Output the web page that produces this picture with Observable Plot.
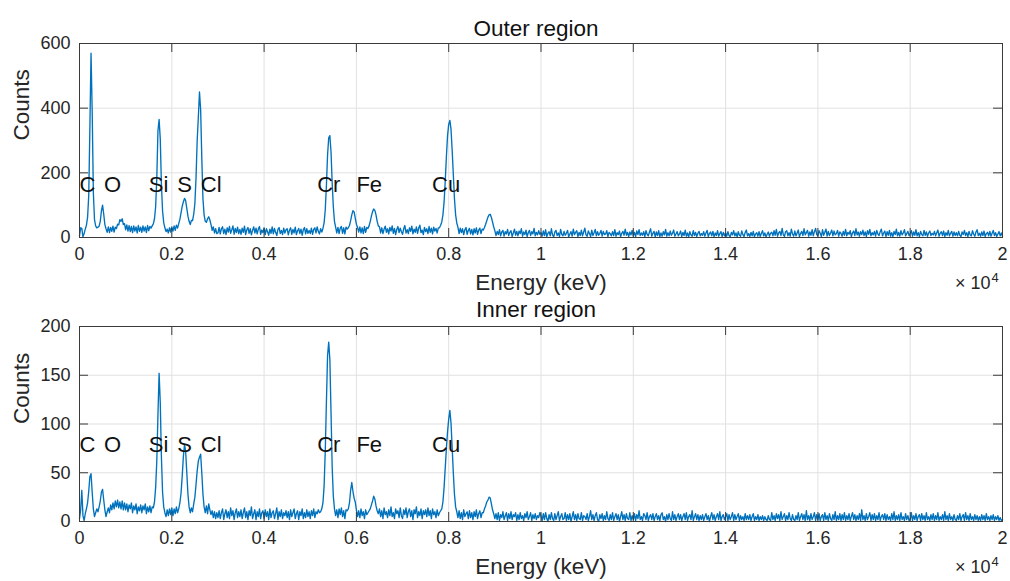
<!DOCTYPE html>
<html>
<head>
<meta charset="utf-8">
<script src="https://cdn.jsdelivr.net/npm/d3@7"></script>
<script src="https://cdn.jsdelivr.net/npm/@observablehq/plot@0.6"></script>
<style>
  html, body { margin: 0; padding: 0; background: #fff; }
  #chart svg { display: block; overflow: visible; background: transparent; }
</style>
</head>
<body>
<div id="chart"></div>
<script>
// ---- spectrum channel layout (eV) ----
const channelWidth = 25;  // eV per channel
const highStart = 10000;  // first channel of the second block

// ---- Outer region counts, channels 0 - 9975 eV ----
const outerLow = [
  5,30,28,2,12,26,38,62,130,340,570,390,140,55,36,30,32,35,50,82,
  100,72,40,27,16,33,15,31,19,35,17,32,28,41,39,55,50,58,40,43,
  24,39,20,37,18,34,15,36,20,33,14,37,19,32,16,36,20,33,15,37,
  21,34,29,36,42,58,95,185,330,365,305,165,82,46,30,18,26,14,30,17,
  33,20,36,22,38,29,43,56,76,96,110,121,114,90,66,50,40,53,52,72,
  105,185,300,372,450,395,245,120,70,50,47,58,64,54,40,22,33,14,27,12,
  14,31,11,27,33,12,26,9,30,17,34,13,24,36,10,28,15,32,12,25,
  10,29,16,35,9,24,31,13,27,8,22,33,14,29,11,26,34,10,23,15,
  30,9,27,18,7,26,13,33,11,28,16,6,25,31,12,22,9,29,14,24,
  27,8,23,30,10,25,14,32,9,21,28,12,26,7,24,31,11,27,13,22,
  12,29,10,25,30,14,33,19,11,27,17,28,45,85,160,255,308,315,265,170,
  95,50,32,14,31,12,29,34,13,30,11,32,26,30,37,52,70,83,79,60,
  41,31,17,33,14,30,12,34,16,31,28,36,50,66,80,88,84,70,50,36,
  33,14,30,12,26,35,16,27,11,31,20,36,13,28,9,25,34,15,29,18,
  10,27,37,14,24,12,30,19,35,11,26,16,33,13,29,38,15,23,9,31,
  18,27,12,34,16,29,11,32,20,28,14,30,30,38,48,70,110,175,250,315,
  350,362,335,270,195,120,70,45,32,12,29,15,27,9,24,31,10,22,28,11,
  25,8,27,14,30,10,23,29,12,26,23,31,41,52,63,70,72,62,48,33,
  21,6,19,9,24,5,17,22,4,18,11,25,6,16,21,3,14,26,7,19,
  5,20,12,27,4,17,9,23,3,15,22,6,18,11,28,5,16,8,21,10
];
// ---- Outer region counts, channels 10000 - 20000 eV ----
const outerHigh = [
  15,4,20,6,24,3,13,18,5,27,8,2,17,22,6,14,3,25,10,5,
  19,7,13,22,2,11,18,4,26,9,16,21,3,16,6,23,5,17,29,8,
  4,20,12,3,23,6,15,25,5,18,7,13,22,4,19,9,11,21,3,16,
  12,5,18,6,24,4,15,9,20,2,13,19,7,26,7,16,3,17,8,22,
  5,16,3,20,9,24,6,14,7,18,3,21,10,5,17,27,4,13,19,2,
  17,6,21,3,14,4,18,8,25,4,15,5,20,7,13,23,4,11,18,5,
  11,20,3,16,6,23,4,14,2,18,8,4,21,6,16,3,13,19,5,12,
  7,18,4,14,22,3,12,17,5,19,2,14,6,21,4,12,18,3,16,5,
  14,4,18,6,2,16,8,21,5,14,2,18,7,4,20,9,3,16,23,5,
  12,3,16,5,19,2,11,15,4,18,3,12,21,5,14,2,10,17,4,13,
  16,5,21,7,25,4,14,19,6,28,9,3,18,21,5,15,4,26,11,4,
  20,5,14,23,3,12,19,6,27,8,15,22,4,17,7,24,5,18,28,9,
  5,21,13,3,24,7,16,26,4,19,6,14,23,5,20,8,12,22,4,17,
  13,4,19,7,25,5,16,10,21,3,14,20,6,27,8,17,4,18,9,23,
  6,17,3,21,10,25,5,15,8,19,4,22,11,6,18,26,5,14,20,3,
  18,7,22,4,15,3,19,9,26,5,16,4,21,8,14,24,5,12,19,6,
  12,21,4,17,7,24,5,15,3,19,9,5,22,7,17,4,14,20,6,13,
  8,19,5,15,23,4,13,18,6,20,3,15,7,22,5,13,19,4,17,6,
  15,5,19,7,3,17,9,22,6,15,3,19,8,5,21,10,4,17,24,6,
  13,4,17,6,20,3,12,16,5,19,4,13,22,6,15,3,11,18,5,14,
  4
];

// ---- Inner region counts, channels 0 - 9975 eV ----
const innerLow = [
  3,12,32,6,1,8,13,19,31,46,49,30,13,5,9,13,10,15,21,30,
  33,22,12,5,10,14,9,17,12,19,13,21,15,22,14,20,13,21,12,19,
  12,18,10,17,13,19,9,16,12,18,8,15,11,17,9,16,12,18,8,15,
  10,16,9,15,14,20,35,62,110,152,122,66,30,15,9,5,12,6,13,7,
  14,6,13,8,15,9,13,19,29,46,66,79,72,50,28,15,9,14,10,18,
  25,38,52,62,66,69,50,28,15,9,16,8,18,12,7,11,4,10,3,9,
  4,11,3,9,13,2,8,12,4,10,3,14,6,11,2,9,13,4,10,5,
  12,3,9,14,4,10,2,11,6,15,3,8,12,2,10,5,13,3,9,11,
  3,12,5,10,2,13,4,9,11,3,8,14,2,10,5,12,3,9,6,11,
  4,10,2,12,5,9,13,3,8,11,2,10,6,13,3,9,4,12,5,10,
  3,11,6,13,4,10,8,12,9,10,13,19,36,72,122,170,184,166,112,56,
  26,13,6,12,4,13,7,14,5,11,3,12,11,13,19,32,40,31,24,20,
  12,5,11,4,13,6,10,3,12,7,9,11,13,17,21,26,23,16,11,8,
  13,5,11,3,14,7,10,4,12,6,15,5,9,3,13,8,11,4,14,6,
  3,12,7,14,4,10,13,5,11,2,12,8,15,4,10,6,13,3,11,7,
  12,5,14,6,11,3,13,7,10,4,12,6,9,11,13,20,35,55,75,92,
  105,114,101,76,50,28,15,10,4,11,3,9,2,12,5,8,10,3,11,4,
  9,2,10,5,12,3,8,11,4,9,9,13,16,20,22,25,24,18,12,8,
  3,8,2,9,1,7,4,10,2,6,9,1,8,3,10,2,7,5,9,1,
  7,2,9,3,6,1,8,4,10,2,5,9,1,7,3,8,2,6,4,9
];
// ---- Inner region counts, channels 10000 - 20000 eV ----
const innerHigh = [
  6,1,8,2,9,3,0,7,2,9,3,1,8,2,6,10,1,5,8,2,
  3,9,1,7,2,8,0,5,10,2,7,1,8,3,2,9,1,6,5,2,
  8,1,5,11,2,7,1,6,9,2,0,7,3,8,1,6,2,10,3,1,
  7,2,9,1,5,8,2,7,0,5,10,2,7,1,8,3,2,9,1,6,
  2,8,1,7,3,11,2,5,1,8,6,2,9,1,5,7,2,8,1,5,
  8,2,6,1,7,9,2,5,0,7,2,8,3,1,10,2,7,1,5,8,
  2,7,1,5,8,2,9,1,5,7,2,11,1,5,8,2,7,1,6,2,
  7,1,5,8,2,6,0,5,9,2,7,1,5,8,2,10,1,5,7,2,
  5,8,1,7,2,5,9,1,7,2,5,8,1,6,2,5,1,8,2,6,
  2,7,1,5,8,1,5,2,7,1,5,2,6,1,5,2,1,6,2,1,
  9,2,6,1,8,3,7,1,10,2,5,8,1,6,2,9,3,1,7,2,
  1,6,2,9,1,5,8,2,7,1,11,2,6,1,8,2,5,9,1,7,
  2,8,1,5,7,1,9,2,6,1,8,3,1,7,2,10,1,6,2,8,
  1,7,2,9,1,6,2,8,1,5,9,2,7,1,6,2,8,1,12,2,
  6,1,8,2,5,9,1,7,2,8,1,6,2,9,1,5,7,2,8,1,
  7,2,5,1,8,2,10,1,6,2,7,1,9,2,5,1,8,2,6,1,
  2,9,1,6,2,8,1,5,7,1,8,2,6,1,9,2,5,1,7,2,
  8,1,6,2,9,1,5,2,7,1,10,2,6,1,8,2,5,1,7,2,
  1,6,2,8,1,5,7,1,9,2,6,1,8,2,5,1,7,2,6,1,
  5,1,7,2,6,1,8,2,5,1,6,2,7,1,5,2,6,1,4,1,
  2
];

// ---- annotations & ticks ----
const elements = ["C", "O", "Si", "S", "Cl", "Cr", "Fe", "Cu"];
const elementEnergy = [0, 530, 1500, 2120, 2630, 5150, 6000, 7640];
const outerLabelLevel = 162;
const innerLabelLevel = 78;
const xTicks = [0, 2000, 4000, 6000, 8000, 10000, 12000, 14000, 16000, 18000, 20000];
const outerYTicks = [0, 200, 400, 600];
const innerYTicks = [0, 50, 100, 150, 200];
const titles = ["Outer region", "Inner region"];
const xLabel = "Energy (keV)";
const yLabel = "Counts";

function toSpectrum(low, high) {
  const out = low.map((c, i) => ({e: i * channelWidth, c}));
  high.forEach((c, i) => out.push({e: highStart + i * channelWidth, c}));
  return out;
}

const FONT = "'Liberation Sans', Arial, Helvetica, sans-serif";
const AX = "#3a3a3a";
const GRID = "#e1e1e1";
const BLUE = "#0072BD";

function panel({data, yMax, yTicks, title, labelLevel, height, marginTop, marginBottom, titleDy}) {
  const plotW = 1010 - 79 - 8;
  const plotH = height - marginTop - marginBottom;
  const tick = 9;
  const labels = elements.map((name, i) => ({name, e: elementEnergy[i], y: labelLevel}));
  return Plot.plot({
    width: 1010,
    height,
    marginLeft: 79,
    marginRight: 8,
    marginTop,
    marginBottom,
    style: {fontFamily: FONT, fontSize: "18px", color: "#262626", background: "transparent", overflow: "visible"},
    x: {domain: [0, 20000], label: null},
    y: {domain: [0, yMax], label: null},
    marks: [
      Plot.gridX(xTicks, {stroke: GRID, strokeOpacity: 1}),
      Plot.gridY(yTicks, {stroke: GRID, strokeOpacity: 1}),
      Plot.line(data, {x: "e", y: "c", stroke: BLUE, strokeWidth: 1.35}),
      Plot.frame({stroke: AX, strokeWidth: 1}),
      Plot.tickX(xTicks, {x: d => d, insetTop: plotH - tick, stroke: AX}),
      Plot.tickX(xTicks, {x: d => d, insetBottom: plotH - tick, stroke: AX}),
      Plot.tickY(yTicks, {y: d => d, insetRight: plotW - tick, stroke: AX}),
      Plot.tickY(yTicks, {y: d => d, insetLeft: plotW - tick, stroke: AX}),
      Plot.axisX(xTicks, {tickSize: 0, tickPadding: 10, label: null, fontSize: 18,
        tickFormat: d => String(+(d / 10000).toFixed(1))}),
      Plot.axisY(yTicks, {tickSize: 0, tickPadding: 9, label: null, fontSize: 18}),
      Plot.text(labels, {x: "e", y: "y", text: "name", textAnchor: "start", lineAnchor: "middle",
        fontSize: 22, fill: "#111"}),
      Plot.text([title], {frameAnchor: "top", dx: -5, dy: titleDy, lineAnchor: "middle",
        fontSize: 22.5, fill: "#111"}),
      Plot.text([xLabel], {frameAnchor: "bottom", dy: 45, lineAnchor: "middle", fontSize: 22.5, fill: "#262626"}),
      Plot.text([yLabel], {frameAnchor: "left", dx: -58, rotate: -90, lineAnchor: "middle", fontSize: 22.5, fill: "#262626"}),
      Plot.text(["× 10"], {frameAnchor: "bottom-right", dx: -12, dy: 45.5, textAnchor: "end", lineAnchor: "middle",
        fontSize: 18, fill: "#262626"}),
      Plot.text(["4"], {frameAnchor: "bottom-right", dx: -11, dy: 40, textAnchor: "start", lineAnchor: "middle",
        fontSize: 13, fill: "#262626"})
    ]
  });
}

const chart = document.getElementById("chart");
chart.append(panel({
  data: toSpectrum(outerLow, outerHigh), yMax: 600, yTicks: outerYTicks, title: titles[0],
  labelLevel: outerLabelLevel, height: 290, marginTop: 43, marginBottom: 53, titleDy: -15
}));
chart.append(panel({
  data: toSpectrum(innerLow, innerHigh), yMax: 200, yTicks: innerYTicks, title: titles[1],
  labelLevel: innerLabelLevel, height: 291, marginTop: 36, marginBottom: 60, titleDy: -16.5
}));
</script>
</body>
</html>
